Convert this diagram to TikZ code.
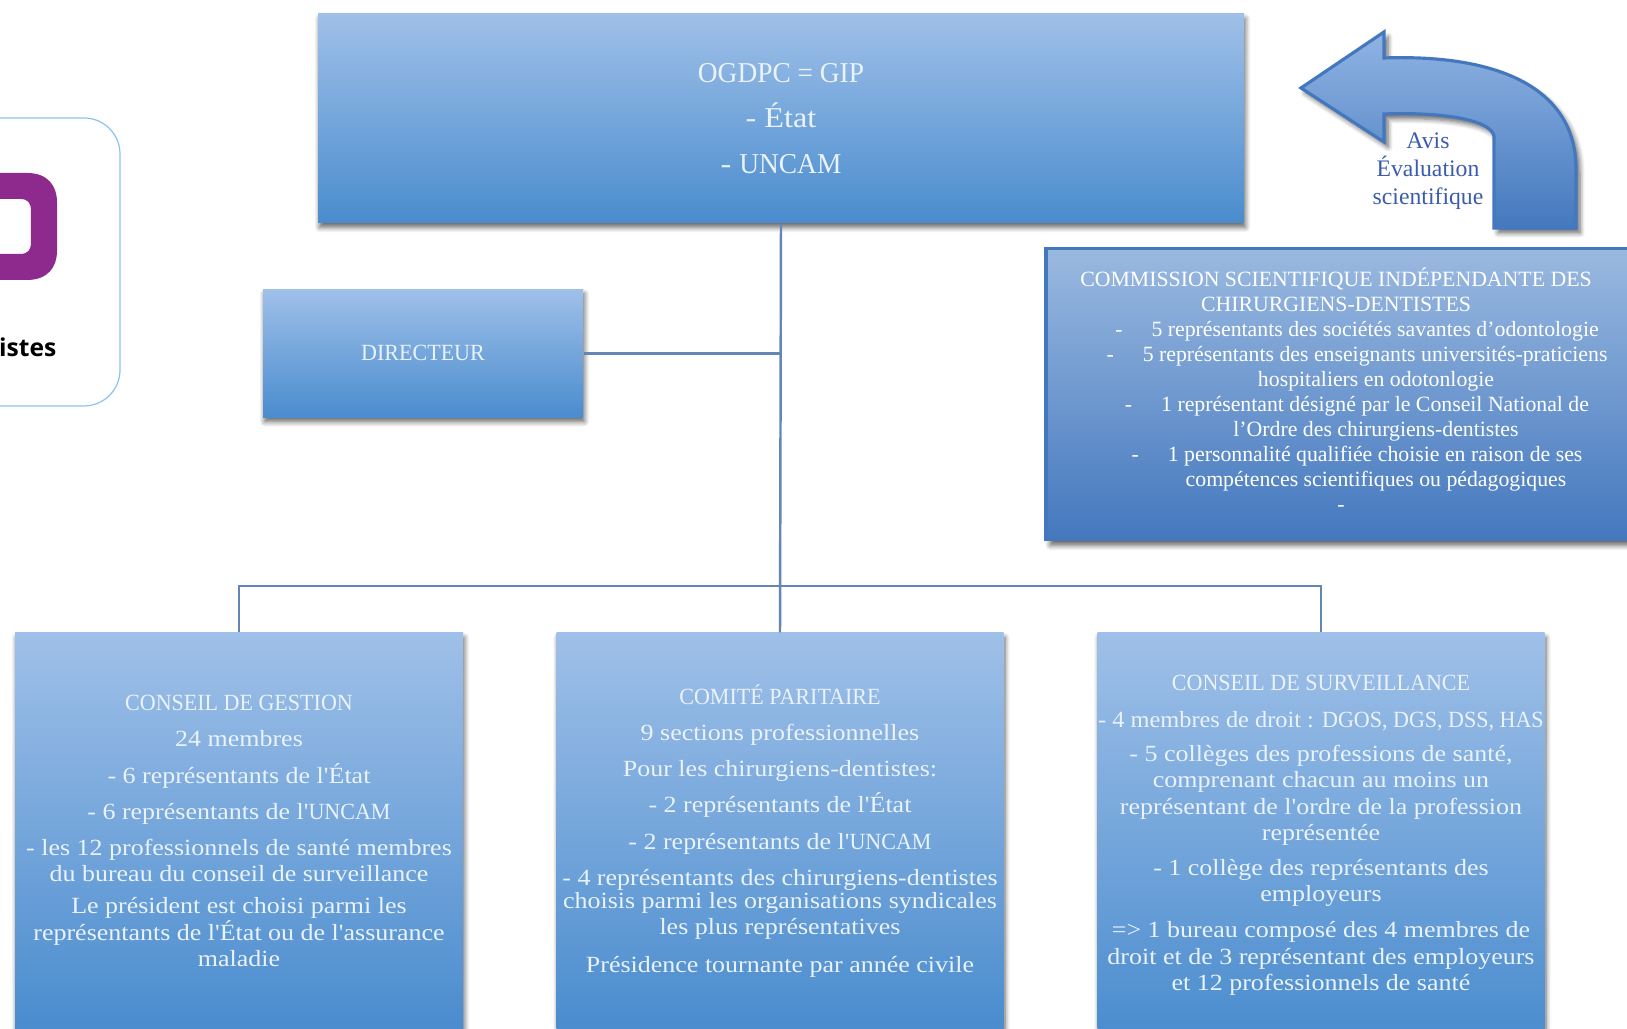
\documentclass[tikz,border=0pt]{standalone}
\usepackage{fontspec}
\setmainfont{Liberation Serif}
\newfontfamily\boxfont{Liberation Serif}[FakeStretch=1.12]
\newfontfamily\capfont{Liberation Serif}[FakeStretch=0.95]
\newfontfamily\narrowfont{Liberation Serif}[FakeStretch=1.05]
\newfontfamily\logofont{Open Sans}
\usetikzlibrary{shadows, shadows.blur}

\definecolor{boxtop}{HTML}{9FC0E8}
\definecolor{boxbottom}{HTML}{4A8CCE}
\definecolor{scitop}{HTML}{9AB9E0}
\definecolor{scibottom}{HTML}{4478BE}
\definecolor{arrowtop}{HTML}{90B4E3}
\definecolor{edgeblue}{HTML}{4478BE}
\definecolor{linkblue}{HTML}{6486B6}
\definecolor{avisblue}{HTML}{3B5BAE}
\definecolor{boxtext}{HTML}{EAF2FA}
\definecolor{logopurple}{HTML}{8E2A8E}
\definecolor{logoedge}{HTML}{8CC4EE}

\tikzset{
  softshadow/.style={blur shadow={shadow xshift=0.15mm, shadow yshift=-0.45mm, shadow blur radius=0.5mm, shadow blur steps=6, shadow opacity=60}},
  bluebox/.style={rectangle, top color=boxtop, bottom color=boxbottom, text=boxtext, align=center, softshadow, inner sep=0pt},
  bigtext/.style={font=\boxfont\fontsize{8.2}{13}\selectfont},
  smalltext/.style={font=\boxfont\fontsize{6.6}{7.5}\selectfont},
  sciline/.style={text=white, anchor=base, inner sep=0pt, font=\fontsize{6.2}{7}\selectfont},
  avisline/.style={text=avisblue, align=center, inner sep=0pt, font=\fontsize{6.75}{8}\selectfont},
  linkline/.style={linkblue, line width=0.7pt},
}

\begin{document}
\begin{tikzpicture}
\clip (0, 0) rectangle (16.27, 10.29);

% logo
\node[draw=logoedge, line width=0.35pt, rounded corners=0.36cm, minimum width=2.2cm, minimum height=2.88cm, inner sep=0pt] (logo) at (0.1, 7.67) {};
\fill[logopurple, even odd rule] (-0.2, 8.56) -- (0.27, 8.56) .. controls (0.48, 8.56) and (0.57, 8.43) .. (0.57, 8.27) -- (0.57, 7.78) .. controls (0.57, 7.62) and (0.48, 7.49) .. (0.27, 7.49) -- (-0.2, 7.49) -- cycle
  (-0.2, 8.3) -- (0.2, 8.3) .. controls (0.28, 8.3) and (0.31, 8.26) .. (0.31, 8.18) -- (0.31, 7.87) .. controls (0.31, 7.79) and (0.28, 7.75) .. (0.2, 7.75) -- (-0.2, 7.75) -- cycle;
\node[anchor=base east, inner sep=0pt, text=black, font=\logofont\bfseries\fontsize{7}{8}\selectfont] (logotext) at (0.57, 6.72) {istes};

% boites
\node[bluebox, bigtext, minimum width=9.26cm, minimum height=2.09cm] (ogdpc) at (7.81, 9.105) {{\capfont OGDPC = GIP}\\- État\\- {\capfont UNCAM}};
\node[bluebox, minimum width=3.2cm, minimum height=1.28cm, font=\capfont\fontsize{6.6}{8}\selectfont] (directeur) at (4.23, 6.757) {DIRECTEUR};

\node[bluebox, smalltext, minimum width=4.48cm, minimum height=3.96cm] (gestion) at (2.39, 1.98) {{\capfont CONSEIL DE GESTION}\\[2.8pt]
24 membres\\[2.8pt]
- 6 représentants de l'État\\[2.8pt]
- 6 représentants de l'{\capfont UNCAM}\\[2.8pt]
- les 12 professionnels de santé membres\\
du bureau du conseil de surveillance\\[1.6pt]
Le président est choisi parmi les\\
représentants de l'État ou de l'assurance\\
maladie};
\node[bluebox, smalltext, minimum width=4.47cm, minimum height=3.96cm] (comite) at (7.8, 1.98) {{\capfont COMITÉ PARITAIRE}\\[2.8pt]
9 sections professionnelles\\[2.8pt]
Pour les chirurgiens-dentistes:\\[2.8pt]
- 2 représentants de l'État\\[2.8pt]
- 2 représentants de l'{\capfont UNCAM}\\[2.8pt]
- 4 représentants des chirurgiens-dentistes\\[-0.9pt]
choisis parmi les organisations syndicales\\
les plus représentatives\\[3.3pt]
Présidence tournante par année civile};
\node[bluebox, smalltext, minimum width=4.47cm, minimum height=4.05cm] (surveillance) at (13.21, 1.935) {{\capfont CONSEIL DE SURVEILLANCE}\\[2.8pt]
{\narrowfont - 4 membres de droit : }{\capfont DGOS, DGS, DSS, HAS}\\[2.3pt]
- 5 collèges des professions de santé,\\
comprenant chacun au moins un\\
représentant de l'ordre de la profession\\
représentée\\[2.3pt]
- 1 collège des représentants des\\
employeurs\\[2.8pt]
=> 1 bureau composé des 4 membres de\\
droit et de 3 représentant des employeurs\\
et 12 professionnels de santé};

% liens
\coordinate (bus) at (7.8, 4.43);
\draw[linkline] (ogdpc.south) -- (comite.north);
\draw[linkline] (directeur.east) -- (directeur.east -| ogdpc.south);
\draw[linkline] (gestion.north) |- (bus) -| (surveillance.north);

% fleche
\draw[edgeblue, line width=0.9pt, top color=arrowtop, bottom color=scibottom,
  blur shadow={shadow xshift=0.4mm, shadow yshift=-0.5mm, shadow blur radius=0.5mm, shadow blur steps=6, shadow opacity=60}]
  (13.01, 9.41) -- (13.84, 9.97) -- (13.84, 9.71) .. controls (15.0, 9.75) and (15.76, 9.4) .. (15.76, 8.6)
  -- (15.76, 8.01) -- (14.94, 8.01) -- (14.94, 8.93) .. controls (14.9, 9.1) and (14.4, 9.17) .. (13.84, 9.15)
  -- (13.84, 8.87) -- cycle;
\node[avisline] (avis) at (14.28, 8.575) {Avis\\Évaluation\\scientifique};

% commission
\node[rectangle, draw=edgeblue, line width=1.1pt, top color=scitop, bottom color=scibottom, inner sep=0pt, minimum width=6.1cm, minimum height=2.91cm,
  blur shadow={shadow xshift=0.4mm, shadow yshift=-0.6mm, shadow blur radius=0.5mm, shadow blur steps=6, shadow opacity=60}] (commission) at (13.51, 6.35) {};
\node[sciline] (sci1) at (13.36, 7.42) {COMMISSION SCIENTIFIQUE INDÉPENDANTE DES};
\node[sciline] (sci2) at (13.36, 7.17) {CHIRURGIENS-DENTISTES};
\node[sciline] (sci3) at (13.57, 6.92) {-\hspace{2.9mm}5 représentants des sociétés savantes d’odontologie};
\node[sciline] (sci4) at (13.57, 6.67) {-\hspace{2.9mm}5 représentants des enseignants universités-praticiens};
\node[sciline] (sci5) at (13.76, 6.42) {hospitaliers en odotonlogie};
\node[sciline] (sci6) at (13.57, 6.17) {-\hspace{2.9mm}1 représentant désigné par le Conseil National de};
\node[sciline] (sci7) at (13.76, 5.92) {l’Ordre des chirurgiens-dentistes};
\node[sciline] (sci8) at (13.57, 5.67) {-\hspace{2.9mm}1 personnalité qualifiée choisie en raison de ses};
\node[sciline] (sci9) at (13.76, 5.42) {compétences scientifiques ou pédagogiques};
\node[sciline] (sci10) at (13.41, 5.17) {-};
\end{tikzpicture}
\end{document}
